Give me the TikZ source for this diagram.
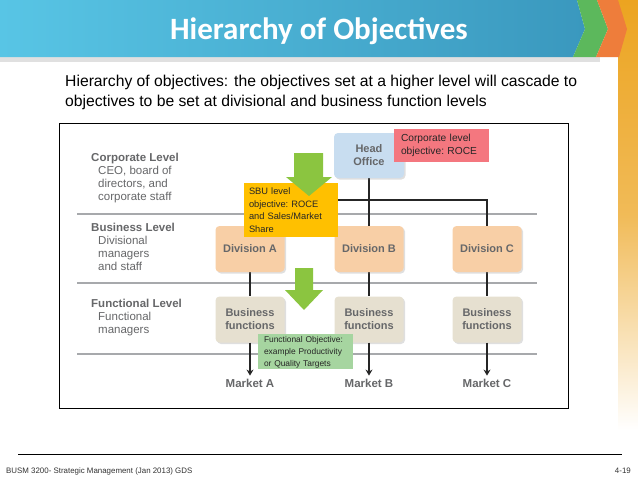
\documentclass[tikz,border=0pt]{standalone}
\usepackage{fontspec}
\setmainfont{Liberation Sans}
\newfontfamily\titlefont{Carlito}
\usetikzlibrary{shadows,arrows.meta}
\definecolor{bannerL}{HTML}{58C5E5}
\definecolor{bannerR}{HTML}{3A98BE}
\definecolor{chevgreen}{HTML}{5CB85C}
\definecolor{chevorange}{HTML}{EE7D3B}
\definecolor{goldbar}{HTML}{ECA420}
\definecolor{headblue}{HTML}{C8DDF0}
\definecolor{peach}{HTML}{F8CFA6}
\definecolor{beige}{HTML}{E6E0D0}
\definecolor{redbox}{HTML}{F4777F}
\definecolor{yellowbox}{HTML}{FFC000}
\definecolor{greenbox}{HTML}{A6D5A0}
\definecolor{arrowgreen}{HTML}{8BC540}
\definecolor{linegray}{HTML}{A7A9AC}
\definecolor{txtgray}{HTML}{666769}
\tikzset{
  orgbox/.style={rounded corners=4pt, minimum width=69pt, minimum height=46pt, inner sep=0pt,
    align=center, text=txtgray, font=\fontsize{11}{13}\selectfont\bfseries,
    drop shadow={opacity=0.25, shadow xshift=1.5pt, shadow yshift=-1.5pt}},
  notebox/.style={inner ysep=0pt, align=left, text=black!85},
  lvltext/.style={anchor=north west, inner sep=0pt, align=left, text=txtgray, font=\fontsize{11.5}{13}\selectfont},
  conn/.style={line width=1.4pt, black!85},
  sep/.style={line width=1.2pt, linegray},
  market/.style={text=txtgray, font=\fontsize{11.5}{13}\selectfont\bfseries, inner sep=0pt},
  mkarrow/.style={conn, -{Stealth[length=6pt,width=7pt]}, shorten >=3pt}
}
\begin{document}
\begin{tikzpicture}[x=1pt,y=-1pt]
\useasboundingbox (0,0) rectangle (638,479);
\fill[white] (0,0) rectangle (638,479);
% gold side bar
\shade[top color=goldbar, bottom color=white, middle color=goldbar!75!white] (618,0) rectangle (638,430);
% banner
\fill[black, opacity=0.12] (0,57) rectangle (600,62);
\shade[left color=bannerL, right color=bannerR] (0,0) -- (577,0) -- (585,29) -- (573,57) -- (0,57) -- cycle;
\fill[chevgreen] (577,0) -- (597,0) -- (608,29) -- (596,57) -- (573,57) -- (585,29) -- cycle;
\fill[chevorange] (597,0) -- (618,0) -- (627,29) -- (619,57) -- (596,57) -- (608,29) -- cycle;
\node[text=white, font=\titlefont\fontsize{31}{34}\selectfont\bfseries] (title) at (319,31) {Hierarchy of Objectives};
% subtitle
\node[anchor=north west, inner sep=0pt, align=left, font=\fontsize{15.7}{20}\selectfont] (subtitle) at (65,75)
  {Hierarchy of objectives: the objectives set at a higher level will cascade to\\objectives to be set at divisional and business function levels};
% frame
\draw[line width=0.8pt] (59,123) rectangle (568,408);
% separators
\draw[sep] (77,214) -- (537,214);
\draw[sep] (77,283) -- (537,283);
\draw[sep] (77,354) -- (537,354);
% level labels
\node[lvltext] (corp) at (91,153) {\textbf{Corporate Level}\\\hspace{7pt}CEO, board of\\\hspace{7pt}directors, and\\\hspace{7pt}corporate staff};
\node[lvltext] (bus) at (91,223) {\textbf{Business Level}\\\hspace{7pt}Divisional\\\hspace{7pt}managers\\\hspace{7pt}and staff};
\node[lvltext] (func) at (91,299) {\textbf{Functional Level}\\\hspace{7pt}Functional\\\hspace{7pt}managers};
% coordinates of columns
\coordinate (jA) at (250,200);
\coordinate (jC) at (487,200);
% connectors (drawn first, boxes on top)
\draw[conn] (369,178) -- (369,226);
\draw[conn] (jA) -- (jC) -- (487,226);
\draw[conn] (jA) -- (250,226);
\draw[conn] (250,272) -- (250,296);
\draw[conn] (369,272) -- (369,296);
\draw[conn] (487,272) -- (487,296);
% org boxes
\node[orgbox, fill=headblue, minimum width=70pt, minimum height=45pt] (head) at (369,155.5) {Head\\Office};
\node[orgbox, fill=peach] (divA) at (250,249) {Division A};
\node[orgbox, fill=peach] (divB) at (369,249) {Division B};
\node[orgbox, fill=peach] (divC) at (487,249) {Division C};
\node[orgbox, fill=beige] (bfA) at (250,319.5) {Business\\functions};
\node[orgbox, fill=beige] (bfB) at (369,319.5) {Business\\functions};
\node[orgbox, fill=beige] (bfC) at (487,319.5) {Business\\functions};
\node[market] (mA) at (250,383) {Market A};
\node[market] (mB) at (369,383) {Market B};
\node[market] (mC) at (487,383) {Market C};
\draw[mkarrow] (bfA.south) -- (mA.north);
\draw[mkarrow] (bfB.south) -- (mB.north);
\draw[mkarrow] (bfC.south) -- (mC.north);
% objective notes
\node[notebox, fill=redbox, minimum width=95pt, minimum height=33pt, text width=81pt, inner xsep=7pt,
  font=\fontsize{10.2}{13}\selectfont\frenchspacing] (corpobj) at (441.5,145.5) {Corporate level\\objective: ROCE};
\node[notebox, fill=yellowbox, minimum width=94pt, minimum height=54pt, text width=84pt, inner xsep=5pt,
  font=\fontsize{9.3}{12.5}\selectfont\frenchspacing] (sbuobj) at (291,210) {SBU level\\objective: ROCE\\and Sales/Market\\Share};
\fill[arrowgreen] (294,153) -- (323,153) -- (323,177) -- (332,177) -- (309,196) -- (286,177) -- (294,177) -- cycle;
\fill[arrowgreen] (295,268) -- (313,268) -- (313,290) -- (323,290) -- (304,310) -- (285,290) -- (295,290) -- cycle;
\node[notebox, fill=greenbox, minimum width=95pt, minimum height=33pt, text width=83pt, inner xsep=6pt,
  font=\fontsize{8.4}{12.2}\selectfont\frenchspacing] (funcobj) at (305.5,351.5) {\rule{0pt}{8pt}Functional Objective:\\example Productivity\\or Quality Targets};
% footer
\draw[line width=0.8pt] (18,454) -- (622,454);
\node[anchor=base west, inner sep=0pt, font=\fontsize{7.9}{9}\selectfont, text=black!80] (foot) at (6,473) {BUSM 3200- Strategic Management (Jan 2013) GDS};
\node[anchor=base east, inner sep=0pt, font=\fontsize{7.9}{9}\selectfont, text=black!80] (page) at (631,473) {4-19};
\end{tikzpicture}
\end{document}
